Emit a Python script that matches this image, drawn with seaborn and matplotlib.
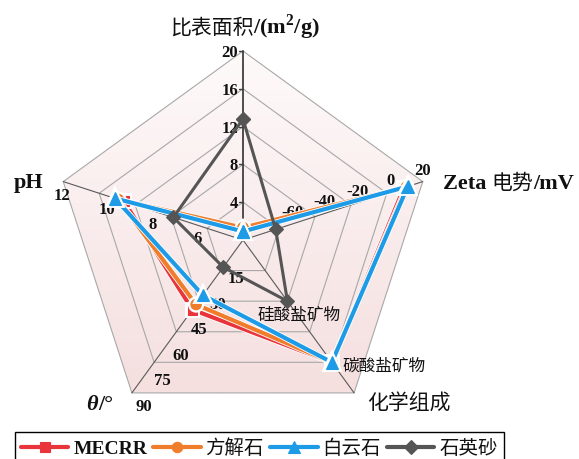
import numpy as np
import pandas as pd
import matplotlib
matplotlib.use("Agg")
import matplotlib.pyplot as plt
import matplotlib.patheffects as pe
import seaborn as sns
from matplotlib.patches import Polygon
from matplotlib.font_manager import FontProperties
from matplotlib.offsetbox import TextArea, HPacker, AnnotationBbox

sns.set_theme(style="white")
plt.rcParams["font.family"] = ["Liberation Serif", "Noto Sans CJK SC", "DejaVu Sans"]
plt.rcParams["mathtext.fontset"] = "custom"
plt.rcParams["mathtext.rm"] = "Liberation Serif:bold"
plt.rcParams["mathtext.bf"] = "Liberation Serif:bold"

# ---- data -------------------------------------------------------------
# radar axes, clockwise from the top
axis_keys = ["area", "zeta", "composition", "angle", "ph"]
# value at the centre of the web and value per grid ring
axis_origin = {"area": 0.0, "zeta": -90.0, "angle": 0.0, "ph": 4.0}
axis_step = {"area": 4.0, "zeta": 22.0, "angle": 18.0, "ph": 1.6}
composition_levels = {"硅酸盐矿物": 2, "碳酸盐矿物": 4}

series = ["MECRR", "方解石", "白云石", "石英砂"]
surface_area = [1.1, 1.3, 0.9, 12.8]          # m2/g
zeta_potential = [8.5, 10.0, 10.8, -70.0]     # mV
composition = ["碳酸盐矿物", "碳酸盐矿物", "碳酸盐矿物", "硅酸盐矿物"]
contact_angle = [41.0, 38.0, 32.5, 16.0]      # degrees
ph_values = [9.3, 9.55, 9.7, 7.1]

area_ticks = [4, 8, 12, 16, 20]
zeta_ticks = [-60, -40, -20, 0, 20]
angle_ticks = [15, 30, 45, 60, 75, 90]
ph_ticks = [6, 8, 10, 12]

colors = ["#e8343a", "#ef7d2c", "#1e9be6", "#555555"]
markers = ["s", "o", "^", "D"]
msizes = [7, 7.5, 9, 7]
lwidths = [3.0, 3.0, 3.0, 2.2]

# ---- geometry ---------------------------------------------------------
N_RINGS = 5
angles = np.deg2rad(90 - 72 * np.arange(5))
PX = 37.8  # pixels per ring


def ring_of(key, v):
    if key == "composition":
        return composition_levels[v]
    return (v - axis_origin[key]) / axis_step[key]


def to_xy(i, r):
    return r * np.cos(angles[i]), r * np.sin(angles[i])


fig = plt.figure(figsize=(5.79, 4.59), dpi=100)
ax = fig.add_axes([0, 0, 1, 1])
xlim = (-243 / PX, (579 - 243) / PX)
ylim = (-(459 - 240) / PX, 240 / PX)
ax.set_axis_off()

# background of the web
outer = [to_xy(i, N_RINGS) for i in range(5)]
pent = Polygon(outer, closed=True, fc="none", ec="none")
ax.add_patch(pent)
g = np.linspace(0, 1, 256)[:, None, None]
top_c = np.array([254, 250, 250]) / 255
bot_c = np.array([245, 223, 223]) / 255
img = top_c + (bot_c - top_c) * g
xs_o = [p[0] for p in outer]
ys_o = [p[1] for p in outer]
im = ax.imshow(img, extent=(min(xs_o), max(xs_o), min(ys_o), max(ys_o)),
               origin="upper", aspect="auto", zorder=0, interpolation="bilinear")
im.set_clip_path(pent)

# grid rings
for k in range(1, N_RINGS + 1):
    ring = [to_xy(i, k) for i in range(5)]
    ax.add_patch(Polygon(ring, closed=True, fc="none", ec="#a8a8a8", lw=0.8, zorder=1))
# spokes
for i in range(5):
    x, y = to_xy(i, N_RINGS)
    ax.plot([0, x], [0, y], color="#404040" if i == 0 else "#5a5a5a",
            lw=1.3 if i == 0 else 0.8, zorder=1.5)
# small ticks on the top value axis
for t in area_ticks:
    x, y = to_xy(0, ring_of("area", t))
    ax.plot([x - 4 / PX, x], [y, y], color="#404040", lw=1.0, zorder=1.5)

# ---- tick labels ------------------------------------------------------
tick_fp = FontProperties(family="Liberation Serif", weight="bold", size=12)
cjk_small = FontProperties(family="Noto Sans CJK SC", size=12)


def tick_label(i, key, v, off, ha="center", va="center"):
    x, y = to_xy(i, ring_of(key, v))
    ax.annotate(f"{v:g}", (x, y), xytext=off, textcoords="offset pixels",
                ha=ha, va=va, fontproperties=tick_fp, color="#111111", zorder=2)


for t in area_ticks:
    tick_label(0, "area", t, (-5, -2), ha="right")
for t in zeta_ticks:
    tick_label(1, "zeta", t, (0, 11))
for t in angle_ticks:
    tick_label(3, "angle", t, (12, -14))
for t in ph_ticks:
    tick_label(4, "ph", t, (-1, -14))

for name, lvl in composition_levels.items():
    x, y = to_xy(2, lvl)
    if lvl == 2:
        ax.annotate(name, (x, y), xytext=(12, -14), textcoords="offset pixels",
                    ha="center", va="center", fontproperties=cjk_small,
                    color="#111111", zorder=2)
    else:
        ax.annotate(name, (x, y), xytext=(11, -4), textcoords="offset pixels",
                    ha="left", va="center", fontproperties=cjk_small,
                    color="#111111", zorder=2)

# ---- axis titles ------------------------------------------------------
lat = FontProperties(family="Liberation Serif", weight="bold", size=16)
lat_it = FontProperties(family="Liberation Serif", weight="bold", style="italic", size=16)
cjk = FontProperties(family="Noto Sans CJK SC", size=15)


def title(i, pieces, off, align):
    boxes = [TextArea(s, textprops=dict(fontproperties=fp, color="#111111"))
             for s, fp in pieces]
    pack = HPacker(children=boxes, align="baseline", pad=0, sep=0)
    ab = AnnotationBbox(pack, to_xy(i, N_RINGS), xybox=off, boxcoords="offset pixels",
                        box_alignment=align, frameon=False, pad=0)
    ax.add_artist(ab)


title(0, [("比表面积", cjk), (r"/(m$^{\mathbf{2}}$/g)", lat)], (2, 24), (0.5, 0.5))
title(1, [("Zeta ", lat), ("电势", cjk), ("/mV", lat)], (20, -1), (0.0, 0.5))
title(2, [("化学组成", cjk)], (55, -10), (0.5, 0.5))
title(3, [("θ", lat_it), ("/°", lat)], (-32, -12), (0.5, 0.5))
title(4, [("pH", lat)], (-35, -1), (0.5, 0.5))

# ---- data polygons ----------------------------------------------------
rows = []
for s_i, name in enumerate(series):
    vals = {"area": surface_area[s_i], "zeta": zeta_potential[s_i],
            "composition": composition[s_i], "angle": contact_angle[s_i],
            "ph": ph_values[s_i]}
    for order, a_i in enumerate(list(range(5)) + [0]):
        key = axis_keys[a_i]
        x, y = to_xy(a_i, ring_of(key, vals[key]))
        rows.append(dict(series=name, order=order, x=x, y=y))
df = pd.DataFrame(rows)

for s_i, name in enumerate(series):
    sub = df[df.series == name].sort_values("order")
    sns.lineplot(data=sub, x="x", y="y", sort=False, estimator=None, ax=ax,
                 color=colors[s_i], lw=lwidths[s_i], marker=markers[s_i],
                 markersize=msizes[s_i], markeredgecolor=colors[s_i],
                 markeredgewidth=0.8, label=name, zorder=3 + s_i)
    line = ax.lines[-1]
    if s_i < 3:
        line.set_path_effects([pe.Stroke(linewidth=lwidths[s_i] + 1.2, foreground="white"),
                               pe.Normal()])

ax.set_xlim(*xlim)
ax.set_ylim(*ylim)

# ---- legend -----------------------------------------------------------
leg = ax.legend(loc="upper left", bbox_to_anchor=(15 / 579, 1 - 432 / 459),
                bbox_transform=fig.transFigure, ncol=4, frameon=True, fancybox=False,
                framealpha=1, edgecolor="black", borderaxespad=0, borderpad=0.3,
                handlelength=2.45, handletextpad=0.25, columnspacing=0.3,
                prop=FontProperties(family="Noto Sans CJK SC", size=14))
leg.get_frame().set_linewidth(1.0)
for txt, name in zip(leg.get_texts(), series):
    if name == "MECRR":
        txt.set_fontproperties(FontProperties(family="Liberation Serif", weight="bold", size=14))
    txt.set_color("#111111")
for h in leg.legend_handles:
    h.set_path_effects([])
    h.set_linewidth(3.0)

fig.savefig("out.png", dpi=100)
